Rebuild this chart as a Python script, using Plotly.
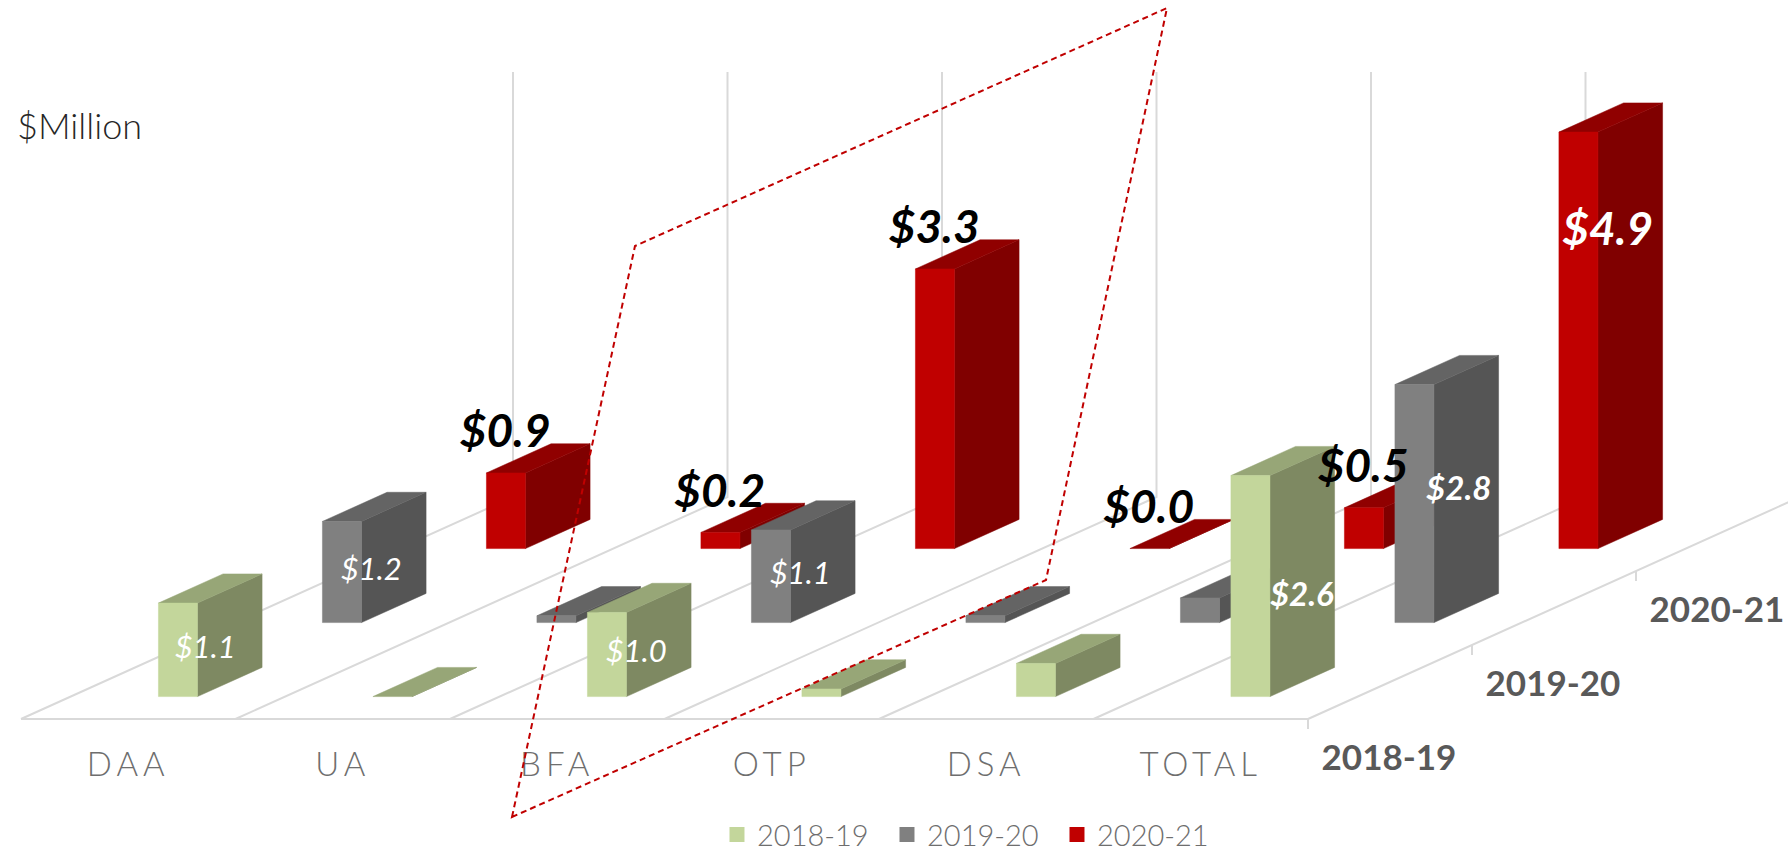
import plotly.graph_objects as go

categories = ["DAA", "UA", "BFA", "OTP", "DSA", "TOTAL"]
seasons = ["2018-19", "2019-20", "2020-21"]
values_2018_19 = [1.10, 0.00, 0.99, 0.09, 0.39, 2.60]
values_2019_20 = [1.19, 0.08, 1.09, 0.08, 0.29, 2.80]
values_2020_21 = [0.89, 0.19, 3.29, 0.00, 0.48, 4.90]
labels_2018_19 = ["$1.1", "", "$1.0", "", "", "$2.6"]
labels_2019_20 = ["$1.2", "", "$1.1", "", "", "$2.8"]
labels_2020_21 = ["$0.9", "$0.2", "$3.3", "$0.0", "$0.5", "$4.9"]

# ---- oblique projection (category, depth, value) -> page pixels ----
ORIGIN_X, ORIGIN_Y = 21.0, 719.0
CELL_W = 214.5
DEPTH_DX, DEPTH_DY = 164.0, 74.0
UNIT = 85.0
BAR_HALF_W, BAR_HALF_D = 0.091, 0.197
Z_MAX = 5
GRID = "#D9D9D9"
FACE_COLORS = [
    {"front": "#C3D69B", "side": "#7E8962", "top": "#97A677", "legend": "#C3D69B"},
    {"front": "#808080", "side": "#555555", "top": "#646464", "legend": "#808080"},
    {"front": "#C00000", "side": "#800000", "top": "#900000", "legend": "#C00000"},
]
LBL = "Lato"


def proj(c, d, v=0.0):
    return ORIGIN_X + CELL_W * c + DEPTH_DX * d, ORIGIN_Y - DEPTH_DY * d - UNIT * v


def poly(points):
    xs, ys = zip(*[proj(*p) for p in points])
    return list(xs) + [xs[0], None], list(ys) + [ys[0], None]


def face_trace(polys, color):
    xs, ys = [], []
    for p in polys:
        a, b = poly(p)
        xs += a
        ys += b
    return go.Scatter(x=xs, y=ys, mode="lines", fill="toself", fillcolor=color,
                      line=dict(width=0.5, color=color), hoverinfo="skip", showlegend=False)


fig = go.Figure()

# floor and walls
n, rows = len(categories), len(seasons)
gx, gy = [], []
for i in range(n + 1):
    x0, y0 = proj(i, 0)
    x1, y1 = proj(i, rows)
    x2, y2 = proj(i, rows, Z_MAX)
    gx += [x0, x1, x2, None]
    gy += [y0, y1, y2, None]
x0, y0 = proj(0, 0)
x1, y1 = proj(n, 0)
gx += [x0, x1, None]
gy += [y0, y1, None]
for j in range(rows):
    tx, ty = proj(n, j)
    gx += [tx, tx, None]
    gy += [ty, ty + 10, None]
fig.add_trace(go.Scatter(x=gx, y=gy, mode="lines", line=dict(color=GRID, width=2),
                         hoverinfo="skip", showlegend=False))

# bars, back row first
all_values = [values_2018_19, values_2019_20, values_2020_21]
for j in reversed(range(rows)):
    front, side, top = [], [], []
    d0, d1 = j + 0.5 - BAR_HALF_D, j + 0.5 + BAR_HALF_D
    for i, v in enumerate(all_values[j]):
        c0, c1 = i + 0.5 - BAR_HALF_W, i + 0.5 + BAR_HALF_W
        side.append([(c1, d0, 0), (c1, d1, 0), (c1, d1, v), (c1, d0, v)])
        top.append([(c0, d0, v), (c1, d0, v), (c1, d1, v), (c0, d1, v)])
        if v > 0:
            front.append([(c0, d0, 0), (c1, d0, 0), (c1, d0, v), (c0, d0, v)])
    fig.add_trace(face_trace(side, FACE_COLORS[j]["side"]))
    fig.add_trace(face_trace(top, FACE_COLORS[j]["top"]))
    fig.add_trace(face_trace(front, FACE_COLORS[j]["front"]))

# legend entries
for j, s in enumerate(seasons):
    fig.add_trace(go.Scatter(x=[None], y=[None], mode="markers", name=s,
                             marker=dict(symbol="square", size=15, color=FACE_COLORS[j]["legend"])))


def text_trace(xs, ys, texts, font):
    fig.add_trace(go.Scatter(x=xs, y=ys, text=texts, mode="text", textposition="middle center",
                             textfont=font, hoverinfo="skip", showlegend=False))


# category labels
cx, cy = [], []
for i in range(n):
    x, y = proj(i + 0.5, 0)
    cx.append(x)
    cy.append(y + 49)
text_trace(cx, cy, categories, dict(family=LBL, size=33, color="#6E6E6E", weight=300))

# season labels along the depth edge
sx, sy = [], []
for j in range(rows):
    x, y = proj(n, j)
    sx.append(x + 81)
    sy.append(y + 42)
text_trace(sx, sy, seasons, dict(family=LBL, size=35, color="#595959", weight=700))

# inner white labels (2018-19 and 2019-20), centred on the front faces
WHITE_NUDGE = {(0, 0): (-5, 0), (0, 5): (19, 12), (1, 5): (12, -12)}
wx, wy, wt, ws, ww = [], [], [], [], []
for j, labels in enumerate([labels_2018_19, labels_2019_20]):
    for i, t in enumerate(labels):
        if not t:
            continue
        x, _ = proj(i + 0.5, j + 0.5)
        _, y = proj(i + 0.5, j + 0.5 - BAR_HALF_D, all_values[j][i] / 2)
        dx, dy = WHITE_NUDGE.get((j, i), (-3, 0))
        wx.append(x + dx)
        wy.append(y + dy)
        wt.append(t)
        ws.append(33 if i == n - 1 else 31)
        ww.append(700 if i == n - 1 else 400)
text_trace(wx, wy, wt, dict(family=LBL, size=ws, weight=ww, color="white", style="italic"))

# red series labels: black above the bar, white inside for the total
bx, by, bt = [], [], []
for i, t in enumerate(labels_2020_21):
    if i == n - 1:
        continue
    x, _ = proj(i + 0.5, 2.5)
    _, y = proj(i + 0.5, 2.5 - BAR_HALF_D, values_2020_21[i])
    bx.append(x - 33)
    by.append(y - 37)
    bt.append(t)
text_trace(bx, by, bt, dict(family=LBL, size=46, color="black", weight=700, style="italic"))
x, _ = proj(n - 0.5, 2.5)
_, y = proj(n - 0.5, 2.5 - BAR_HALF_D, 2.45 + 1.26)
text_trace([x - 3], [y], [labels_2020_21[-1]], dict(family=LBL, size=46, color="white", weight=700, style="italic"))

# unit label
fig.add_annotation(x=15, y=125, xref="x", yref="y", xanchor="left", yanchor="middle", showarrow=False,
                   text="$Million", font=dict(family=LBL, size=36, color="#262626", weight=300))

# hand-drawn highlight box over the chart
fig.add_shape(type="path", path="M 512 817 L 635 246 L 1167 8 L 1046 580 Z", layer="above",
              line=dict(color="#C00000", width=2, dash="6px,4px"), xref="x", yref="y")

fig.update_layout(
    width=1788, height=855, margin=dict(l=0, r=0, t=0, b=0, autoexpand=False),
    paper_bgcolor="white", plot_bgcolor="white",
    xaxis=dict(range=[0, 1788], visible=False, fixedrange=True),
    yaxis=dict(range=[855, 0], visible=False, fixedrange=True),
    legend=dict(orientation="h", x=0.401, y=-0.006, xanchor="left", yanchor="bottom",
                font=dict(family=LBL, size=29, color="#6E6E6E", weight=300),
                entrywidth=125, entrywidthmode="pixels", bgcolor="rgba(0,0,0,0)",
                tracegroupgap=0),
)

# the reference spaces its axis captions widely; SVG text takes this as a style
spaced = "|".join(categories)
post = (
    "document.body.style.margin='0';document.body.style.overflow='hidden';"
    "document.querySelectorAll('.textpoint text').forEach(function(t){"
    f"if(new RegExp('^({spaced})$').test(t.textContent)){{t.style.letterSpacing='5px';}}"
    "});"
)
fig.write_html("out.html", post_script=post, config={"displayModeBar": False})
